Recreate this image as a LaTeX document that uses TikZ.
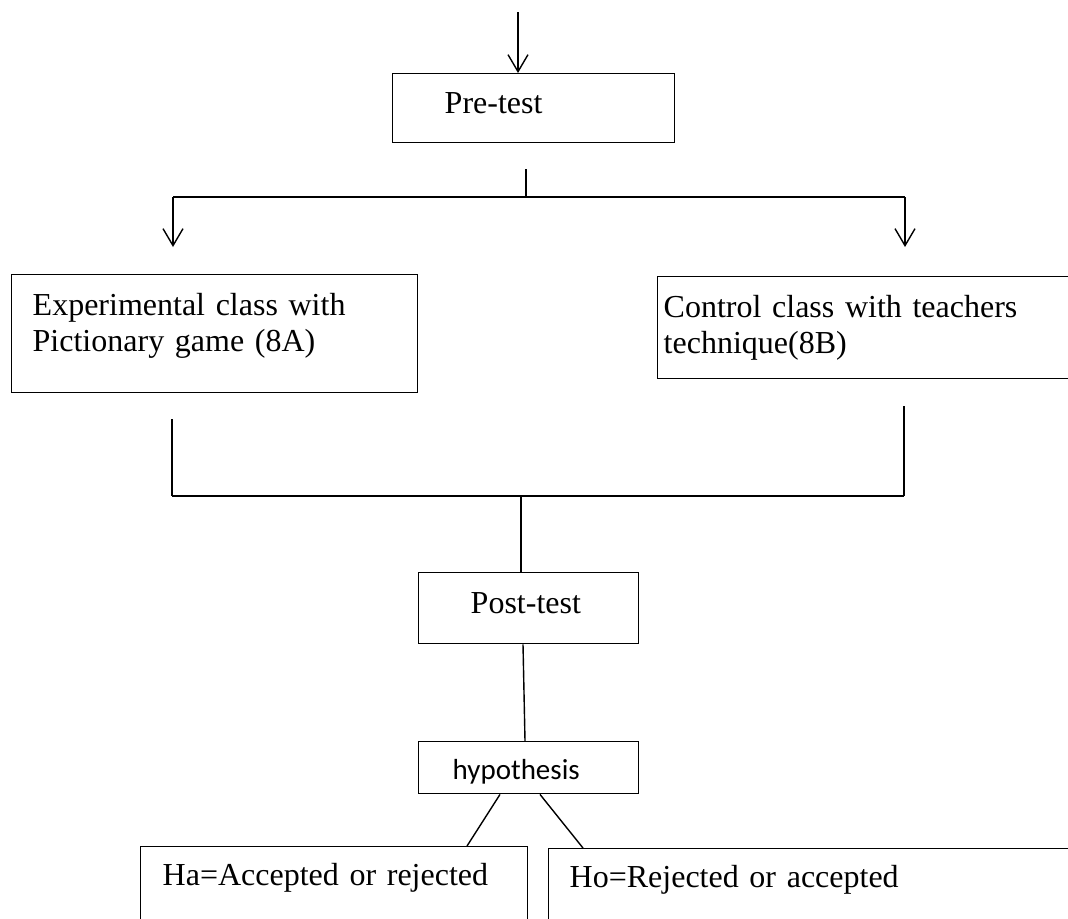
\documentclass[tikz,border=0pt]{standalone}
\usepackage{fontspec}
\setmainfont{Liberation Serif}
\newfontfamily\hypfont{Carlito}
\usetikzlibrary{calc}
\usetikzlibrary{arrows.meta}
\tikzset{
  box/.style={draw, line width=0.7pt, anchor=north west, inner ysep=0pt, align=left,
    font=\fontsize{16}{18}\selectfont},
  link/.style={line width=0.7pt},
  bar/.style={line width=1pt},
  down/.style={line width=0.7pt, -{Straight Barb[length=8.5pt,width=10pt]}}
}

\begin{document}
\begin{tikzpicture}[x=0.5pt,y=-0.5pt]
        \useasboundingbox (0,0) rectangle (1068,918);
        \clip (0,0) rectangle (1068,918);
        % pre-test
        \node[box, inner xsep=26pt, text width=89pt, text height=20pt, text depth=14.5pt] (pre) at (392,73) {Pre-test};
        % the two classes
        \node[box, inner xsep=10.5pt, text width=182pt, text height=20.5pt, text depth=38.5pt] (exp) at (11,274)
            {Experimental class with\\Pictionary game (8A)};
        \node[box, inner xsep=3pt, text width=210pt, text height=20.5pt, text depth=30.5pt] (ctl) at (657,276)
            {Control class with teachers\\technique(8B)};
        % post-test and hypothesis
        \node[box, inner xsep=26pt, text width=58pt, text height=20.5pt, text depth=15pt] (post) at (418,572) {Post-test};
        \node[box, inner xsep=17pt, text width=76pt, text height=19pt, text depth=7pt,
            font=\hypfont\fontsize{14.5}{17}\selectfont] (hyp) at (418,741) {hypothesis};
        \node[box, inner xsep=11pt, text width=171.5pt, text height=19.5pt, text depth=37.5pt] (ha) at (140,846)
            {Ha=Accepted or rejected};
        \node[box, inner xsep=10.5pt, text width=250pt, text height=19.5pt, text depth=37pt] (ho) at (548,848)
            {Ho=Rejected or accepted};

        % arrow in
        \coordinate (in) at (518,12);
        \draw[down] (in) -- (in |- pre.north);
        % split
        \coordinate (forktop) at (526,169);
        \coordinate (fork) at (526,197);
        \coordinate (forkl) at (173,197);
        \coordinate (forkr) at (905,197);
        \draw[link] (forktop) -- (fork);
        \draw[bar] (forkl) -- (forkr);
        \draw[down] (forkl) -- ++(0,50);
        \draw[down] (forkr) -- ++(0,50);
        % join
        \coordinate (joinl) at (172,496);
        \coordinate (joinr) at (904,496);
        \coordinate (join) at (521,496);
        \draw[link] (172,419) -- (joinl);
        \draw[link] (904,406) -- (joinr);
        \draw[bar] (joinl) -- (joinr);
        \draw[link] (join) -- (join |- post.north);
        % down to hypothesis
        \draw[link] ($(post.south west)+(105,0)$) -- ($(hyp.north west)+(107,0)$);
        \draw[link] ($(hyp.south west)+(82,0)$) -- ($(ha.north west)+(327,0)$);
        \draw[link] ($(hyp.south west)+(122,0)$) -- ($(ho.north west)+(35,0)$);
\end{tikzpicture}
\end{document}
